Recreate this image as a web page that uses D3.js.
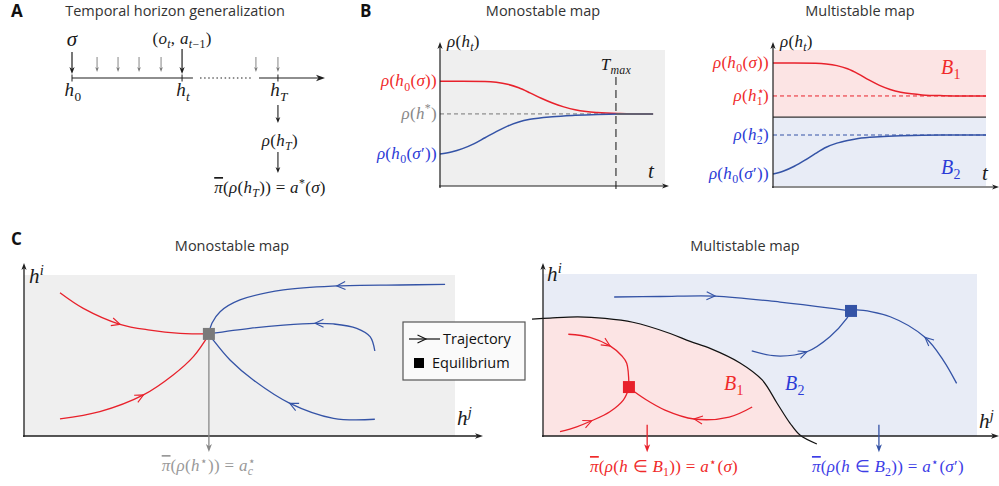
<!DOCTYPE html>
<html><head><meta charset="utf-8">
<script src="https://cdn.jsdelivr.net/npm/d3@7"></script>
<style>body{margin:0;background:#fff}</style>
</head><body>
<svg id="c" width="999" height="486"></svg>
<script>
// ================= DATA =================
const panelLetters = ["A", "B", "C"];
const titleA = "Temporal horizon generalization";
const titleMono = "Monostable map";
const titleMulti = "Multistable map";

// Panel A: timeline (abstract time units)
const timelineSegments = [[0, 4.78, "solid"], [5.06, 7.11, "dotted"], [7.39, 10, "arrow"]];
const timelineTickPos = [0, 4.35, 8.14];
const timelineTickLabels = ["h_{0}", "h_{t}", "h_{T}"];
const obsArrowPos = [0.99, 1.82, 2.65, 3.52, 7.27, 8.14];
const inputLabels = ["σ", "(o_{t}, a_{t−1})"];
const inputPos = [0, 4.35];
const readoutLabels = ["ρ(h_{T})", "§(ρ(h_{T})) = a^{*}(σ)"];

// Panel B monostable: rho(h_t) over t
const monoRedT   = [0, 1, 2, 2.5, 3, 3.5, 4, 4.5, 5, 5.5, 6, 6.5, 7, 8, 9, 9.47];
const monoRedRho = [7.7, 7.7, 7.68, 7.62, 7.48, 7.22, 6.85, 6.45, 6.1, 5.82, 5.6, 5.47, 5.4, 5.33, 5.3, 5.3];
const monoBlueT   = [0, 0.5, 1, 1.5, 2, 2.5, 3, 3.5, 4, 5, 6, 7, 8, 9, 9.47];
const monoBlueRho = [2.35, 2.5, 2.75, 3.1, 3.55, 4.0, 4.4, 4.7, 4.9, 5.1, 5.2, 5.26, 5.29, 5.3, 5.3];
const monoFixedRho = 5.3;
const monoTmax = 7.82;
const monoTEnd = 9.47;
const monoLabels = ["ρ(h_{0}(σ))", "ρ(h^{*})", "ρ(h_{0}(σ′))"];
const monoLabelRho = [7.7, 5.3, 2.35];

// Panel B multistable
const multiRedT   = [0, 1, 2, 2.5, 3, 3.5, 4, 4.5, 5, 5.5, 6, 6.5, 7, 8, 9, 10];
const multiRedRho = [9.04, 9.04, 9.02, 8.97, 8.85, 8.62, 8.25, 7.8, 7.4, 7.1, 6.9, 6.78, 6.7, 6.64, 6.62, 6.62];
const multiBlueT   = [0, 0.5, 1, 1.5, 2, 2.5, 3, 3.5, 4, 5, 6, 7, 8, 10];
const multiBlueRho = [0.88, 1.1, 1.45, 1.9, 2.4, 2.85, 3.15, 3.35, 3.5, 3.63, 3.7, 3.74, 3.75, 3.75];
const multiBasinEdge = 5.07;
const multiFixedRho = [6.62, 3.75];
const multiLabels = ["ρ(h_{0}(σ))", "ρ(h^{⋆}_{1})", "ρ(h^{⋆}_{2})", "ρ(h_{0}(σ′))"];
const multiLabelRho = [9.04, 6.62, 3.75, 0.88];
const basinLabels = ["B_{1}", "B_{2}"];

// Panel C monostable phase portrait [h^j, h^i]
const cMonoEq = [42.9, 63.4];
const cMonoRed1  = [[8.35, 89.0], [13.76, 79.3], [22.27, 69.4], [29.23, 65.8], [36.19, 63.8], [42.9, 63.4]];
const cMonoRed2  = [[8.35, 10.6], [17.6, 15.1], [27.7, 25.5], [34.6, 37.9], [39.3, 49.3], [42.9, 63.0]];
const cMonoBlue1 = [[97.7, 94.2], [87.2, 93.8], [72.6, 93.2], [60.2, 90.7], [50.1, 84.5], [45.5, 77.2], [43.6, 70.0], [42.9, 63.6]];
const cMonoBlue2 = [[81.4, 52.8], [80.3, 61.7], [77.2, 66.9], [71.8, 69.6], [67.5, 70.0], [60.2, 68.9], [52.4, 66.9], [42.9, 63.5]];
const cMonoBlue3 = [[81.4, 10.4], [71.8, 11.0], [61.7, 20.3], [53.2, 34.8], [47.8, 47.2], [43.9, 59.6], [42.9, 63.2]];
const cMonoArrowIdx = [2, 2, 2, 4, 2];
const cMonoLabel = "§(ρ(h^{⋆})) = a^{⋆}_{c}";

// Panel C multistable
const cMultiEq = [[19.8, 30.2], [70.97, 77.2]];
const cBoundary = [[-2.53, 72.2], [1.61, 72.8], [8.06, 73.5], [14.3, 72.6], [20.7, 70.2], [29.3, 63.3], [33.9, 58.4], [38.5, 54.1], [45.4, 45.1], [50.5, 34.6], [53.9, 20.4], [56.9, 8.0], [59.2, 0.6], [63.1, -4.9]];
const cMultiRed1 = [[5.83, 62.8], [10.83, 60.9], [15.44, 55.6], [18.2, 49.4], [19.29, 44.9], [19.8, 31.0]];
const cMultiRed2 = [[3.92, 2.65], [7.76, 5.7], [11.2, 9.4], [15.4, 15.0], [18.5, 22.2], [19.8, 29.5]];
const cMultiRed3 = [[48.2, 17.9], [42.9, 11.7], [34.8, 10.5], [28.1, 16.0], [23.5, 22.8], [19.9, 29.6]];
const cMultiBlue1 = [[16.4, 85.8], [27.0, 86.1], [39.6, 86.4], [54.6, 82.7], [66.1, 79.0], [70.9, 77.2]];
const cMultiBlue2 = [[48.1, 52.5], [53.8, 49.4], [60.8, 52.0], [66.1, 61.3], [70.0, 72.6], [70.9, 76.8]];
const cMultiBlue3 = [[95.3, 32.5], [92.2, 46.9], [88.0, 60.9], [80.0, 73.6], [72.3, 77.8], [71.0, 77.2]];
const cMultiArrowIdx = [2, 2, 2, 2, 2, 2];
const cMultiReadoutX = [24.0, 77.4];
const cMultiLabels = ["§(ρ(h ∈ B_{1})) = a^{⋆}(σ)", "§(ρ(h ∈ B_{2})) = a^{⋆}(σ′)"];
const legendLabels = ["Trajectory", "Equilibrium"];

// ================= STYLE =================
const FM = "'Liberation Serif','Times New Roman',serif";
const FS = "'Open Sans','Noto Sans',sans-serif";
const RED = "#e8212b", BLUE = "#3453a6", REDT = "#f02a2a", BLUET = "#2b3bd6";
const GRAYBG = "#efefef", PINK = "#fce4e4", BLUEBG = "#e8ecf6", AX = "#1e1e1e";

const svg = d3.select("#c");

// ---------- helpers ----------
function runsOf(str) {
  const out = [];
  for (const ch of str) {
    const cls = ch === '§' ? 'bar' : (/[A-Za-z\u03B1-\u03C9]/.test(ch) ? 'it' : 'up');
    const txt = ch === '§' ? 'π' : ch;
    if (out.length && out[out.length - 1].cls === cls && cls !== 'bar') out[out.length - 1].text += txt;
    else out.push({ cls, text: txt });
  }
  return out;
}
function mathText(parent, x, y, src, o = {}) {
  const size = o.size || 17;
  const t = parent.append("text").attr("x", x).attr("y", y)
    .attr("text-anchor", o.anchor || "start")
    .attr("font-family", FM).attr("font-size", size).attr("fill", o.color || "#1a1a1a")
    .attr("letter-spacing", 0.3);
  let shift = 0, i = 0, supW = null;
  function emit(str, fs, target, dx) {
    const spans = [];
    runsOf(str).forEach((r, k) => {
      const ts = t.append("tspan").attr("font-size", fs)
        .attr("font-style", r.cls === 'up' ? 'normal' : 'italic').text(r.text);
      if (k === 0) {
        if (target !== shift) ts.attr("dy", target - shift);
        shift = target;
        if (dx) ts.attr("dx", dx);
      }
      if (r.cls === 'bar') ts.style("text-decoration", "overline");
      spans.push(ts);
    });
    return spans;
  }
  while (i < src.length) {
    const ch = src[i];
    if ((ch === '_' || ch === '^') && src[i + 1] === '{') {
      const j = src.indexOf('}', i);
      const g = src.slice(i + 2, j);
      const fs = size * 0.7;
      if (ch === '^') {
        const sp = emit(g, fs, -size * 0.38, 0);
        supW = d3.sum(sp, s => s.node().getComputedTextLength());
      } else {
        emit(g, fs, size * 0.25, supW != null ? -supW : 0);
        supW = null;
      }
      i = j + 1;
    } else {
      let j = i;
      while (j < src.length && !((src[j] === '_' || src[j] === '^') && src[j + 1] === '{')) j++;
      emit(src.slice(i, j), size, 0, 0);
      supW = null; i = j;
    }
  }
  if (shift !== 0) t.append("tspan").attr("dy", -shift).text("");
  return t;
}
function head(g, x, y, ang, color, len = 7, half = 2.8) {
  g.append("path").attr("d", `M0,0L${-len},${-half}L${-len * 0.72},0L${-len},${half}Z`)
    .attr("transform", `translate(${x},${y})rotate(${ang})`).attr("fill", color);
}
function arrow(g, x1, y1, x2, y2, color, w = 1.2, len = 7, half = 2.8) {
  const ang = Math.atan2(y2 - y1, x2 - x1) * 180 / Math.PI;
  const d = Math.hypot(x2 - x1, y2 - y1), ux = (x2 - x1) / d, uy = (y2 - y1) / d;
  g.append("line").attr("x1", x1).attr("y1", y1).attr("x2", x2 - ux * len * 0.6).attr("y2", y2 - uy * len * 0.6)
    .attr("stroke", color).attr("stroke-width", w);
  head(g, x2, y2, ang, color, len, half);
}
function chevron(g, x, y, ang, color) {
  g.append("path").attr("d", "M-8.5,-4L0,0L-8.5,4").attr("fill", "none").attr("stroke", color)
    .attr("stroke-width", 1.1).attr("transform", `translate(${x},${y})rotate(${ang})`);
}
function trajectory(g, xs, ys, pts, idx, color) {
  const line = d3.line().x(d => xs(d[0])).y(d => ys(d[1])).curve(d3.curveCatmullRom.alpha(0.5));
  const p = g.append("path").attr("d", line(pts)).attr("fill", "none").attr("stroke", color).attr("stroke-width", 1.3);
  const node = p.node(), L = node.getTotalLength();
  const tx = xs(pts[idx][0]), ty = ys(pts[idx][1]);
  let best = 0, bd = 1e9;
  for (let s = 0; s <= 400; s++) {
    const q = node.getPointAtLength(L * s / 400);
    const dd = (q.x - tx) ** 2 + (q.y - ty) ** 2;
    if (dd < bd) { bd = dd; best = L * s / 400; }
  }
  const a = node.getPointAtLength(Math.max(0, best - 2)), b = node.getPointAtLength(Math.min(L, best + 2));
  const q = node.getPointAtLength(best);
  chevron(g, q.x, q.y, Math.atan2(b.y - a.y, b.x - a.x) * 180 / Math.PI, color);
}
function square(g, x, y, color, s = 12) {
  g.append("rect").attr("x", x - s / 2).attr("y", y - s / 2).attr("width", s).attr("height", s).attr("fill", color);
}
function sans(g, x, y, txt, o = {}) {
  return g.append("text").attr("x", x).attr("y", y).attr("text-anchor", o.anchor || "start")
    .attr("font-family", FS).attr("font-size", o.size || 14).attr("font-weight", o.weight || 400)
    .attr("fill", o.color || "#333").text(txt);
}

// ---------- panel letters & titles ----------
const gT = svg.append("g");
sans(gT, 11, 17, panelLetters[0], { size: 17, weight: 700, color: "#111" });
sans(gT, 360, 17, panelLetters[1], { size: 17, weight: 700, color: "#111" });
sans(gT, 11, 245, panelLetters[2], { size: 17, weight: 700, color: "#111" });
sans(gT, 175, 16, titleA, { anchor: "middle", size: 14.5 });
sans(gT, 543, 16, titleMono, { anchor: "middle", size: 14.5 });
sans(gT, 860, 16, titleMulti, { anchor: "middle", size: 14.5 });
sans(gT, 232, 251, titleMono, { anchor: "middle", size: 14.5 });
sans(gT, 745, 251, titleMulti, { anchor: "middle", size: 14.5 });

// ================= PANEL A =================
(function () {
  const g = svg.append("g");
  const tl = d3.scaleLinear().domain([0, 10]).range([72, 325]);
  const yAx = 78;
  timelineSegments.forEach(([a, b, kind]) => {
    if (kind === "arrow") arrow(g, tl(a), yAx, tl(b), yAx, AX, 1.2, 9, 3.2);
    else g.append("line").attr("x1", tl(a)).attr("x2", tl(b)).attr("y1", yAx).attr("y2", yAx)
      .attr("stroke", AX).attr("stroke-width", 1.2).attr("stroke-dasharray", kind === "dotted" ? "1.5,2.6" : null);
  });
  timelineTickPos.forEach((p, i) => {
    g.append("line").attr("x1", tl(p)).attr("x2", tl(p)).attr("y1", yAx - 3.5).attr("y2", yAx + 3.5).attr("stroke", AX);
    mathText(g, tl(p) + 1, 96, timelineTickLabels[i], { anchor: "middle", size: 19 });
  });
  obsArrowPos.forEach(p => arrow(g, tl(p), 57, tl(p), 72, "#777", 0.9, 5, 1.8));
  inputPos.forEach((p, i) => {
    arrow(g, tl(p), i === 0 ? 52 : 49, tl(p), 74, AX, 1.2, 7, 2.6);
    mathText(g, tl(p), i === 0 ? 46 : 44, inputLabels[i], { anchor: "middle", size: i === 0 ? 21 : 17 });
  });
  const xT = tl(timelineTickPos[2]);
  arrow(g, xT, 105, xT, 123, AX, 1.1, 6, 2.4);
  mathText(g, xT + 2, 146, readoutLabels[0], { anchor: "middle", size: 17 });
  arrow(g, xT, 152, xT, 173, AX, 1.1, 6, 2.4);
  mathText(g, 270, 193, readoutLabels[1], { anchor: "middle", size: 17 });
})();

// ================= PANEL B mono =================
(function () {
  const g = svg.append("g");
  const x = d3.scaleLinear().domain([0, 10]).range([440, 665]);
  const y = d3.scaleLinear().domain([0, 10]).range([186, 50]);
  g.append("rect").attr("x", x(0)).attr("y", y(10)).attr("width", x(10) - x(0)).attr("height", y(0) - y(10)).attr("fill", GRAYBG);
  g.append("line").attr("x1", x(0)).attr("x2", x(monoTmax)).attr("y1", y(monoFixedRho)).attr("y2", y(monoFixedRho))
    .attr("stroke", "#777").attr("stroke-width", 1).attr("stroke-dasharray", "4,3");
  const line = d3.line().x(d => x(d[0])).y(d => y(d[1])).curve(d3.curveMonotoneX);
  g.append("path").attr("d", line(monoRedT.map((t, i) => [t, monoRedRho[i]]))).attr("fill", "none").attr("stroke", RED).attr("stroke-width", 1.5);
  g.append("path").attr("d", line(monoBlueT.map((t, i) => [t, monoBlueRho[i]]))).attr("fill", "none").attr("stroke", BLUE).attr("stroke-width", 1.5);
  g.append("line").attr("x1", x(monoTmax)).attr("x2", x(monoTEnd)).attr("y1", y(monoFixedRho)).attr("y2", y(monoFixedRho))
    .attr("stroke", "#666").attr("stroke-width", 1.5);
  g.append("line").attr("x1", x(monoTmax)).attr("x2", x(monoTmax)).attr("y1", 77).attr("y2", 194)
    .attr("stroke", "#444").attr("stroke-width", 1.3).attr("stroke-dasharray", "8,5");
  arrow(g, x(0), 188, x(0), 42, AX, 1.2, 7, 2.6);
  arrow(g, x(0) - 1, y(0), 669, y(0), AX, 1.2, 7, 2.6);
  const cols = [REDT, "#888", BLUET];
  monoLabels.forEach((l, i) => mathText(g, 437, y(monoLabelRho[i]) + 5, l, { anchor: "end", size: 17, color: cols[i] }));
  mathText(g, 447, 47, "ρ(h_{t})", { size: 17 });
  mathText(g, x(monoTmax), 70, "T_{max}", { anchor: "middle", size: 17 });
  mathText(g, 651, 178, "t", { anchor: "middle", size: 21 });
})();

// ================= PANEL B multi =================
(function () {
  const g = svg.append("g");
  const x = d3.scaleLinear().domain([0, 10]).range([773, 986]);
  const y = d3.scaleLinear().domain([0, 10]).range([186, 50]);
  g.append("rect").attr("x", x(0)).attr("y", y(10)).attr("width", x(10) - x(0)).attr("height", y(multiBasinEdge) - y(10)).attr("fill", PINK);
  g.append("rect").attr("x", x(0)).attr("y", y(multiBasinEdge)).attr("width", x(10) - x(0)).attr("height", y(0) - y(multiBasinEdge)).attr("fill", BLUEBG);
  g.append("line").attr("x1", x(0)).attr("x2", x(10)).attr("y1", y(multiBasinEdge)).attr("y2", y(multiBasinEdge)).attr("stroke", "#333").attr("stroke-width", 1.3);
  [RED, BLUE].forEach((c, i) => g.append("line").attr("x1", x(0)).attr("x2", x(10)).attr("y1", y(multiFixedRho[i])).attr("y2", y(multiFixedRho[i]))
    .attr("stroke", c).attr("stroke-width", 1).attr("stroke-dasharray", "4,3"));
  const line = d3.line().x(d => x(d[0])).y(d => y(d[1])).curve(d3.curveMonotoneX);
  g.append("path").attr("d", line(multiRedT.map((t, i) => [t, multiRedRho[i]]))).attr("fill", "none").attr("stroke", RED).attr("stroke-width", 1.5);
  g.append("path").attr("d", line(multiBlueT.map((t, i) => [t, multiBlueRho[i]]))).attr("fill", "none").attr("stroke", BLUE).attr("stroke-width", 1.5);
  arrow(g, x(0), 188, x(0), 42, AX, 1.2, 7, 2.6);
  arrow(g, x(0) - 1, y(0) + 1, 999, y(0) + 1, AX, 1.2, 7, 2.6);
  const cols = [REDT, REDT, BLUET, BLUET];
  multiLabels.forEach((l, i) => mathText(g, 769, y(multiLabelRho[i]) + 5, l, { anchor: "end", size: 17, color: cols[i] }));
  mathText(g, 780, 47, "ρ(h_{t})", { size: 17 });
  mathText(g, 951, 74, basinLabels[0], { anchor: "middle", size: 20, color: REDT });
  mathText(g, 951, 174, basinLabels[1], { anchor: "middle", size: 20, color: BLUET });
  mathText(g, 985, 180, "t", { anchor: "middle", size: 21 });
})();

// ================= PANEL C mono =================
(function () {
  const g = svg.append("g");
  const x = d3.scaleLinear().domain([0, 100]).range([24, 455]);
  const y = d3.scaleLinear().domain([0, 100]).range([436, 275]);
  g.append("rect").attr("x", x(0)).attr("y", y(100)).attr("width", x(100) - x(0)).attr("height", y(0) - y(100)).attr("fill", GRAYBG);
  arrow(g, x(0), 437, x(0), 263, AX, 1.3, 7, 2.6);
  arrow(g, x(0) - 1, y(0), 483, y(0), AX, 1.3, 8, 2.8);
  const trajs = [[cMonoRed1, RED], [cMonoRed2, RED], [cMonoBlue1, BLUE], [cMonoBlue2, BLUE], [cMonoBlue3, BLUE]];
  trajs.forEach(([p, c], i) => trajectory(g, x, y, p, cMonoArrowIdx[i], c));
  arrow(g, x(cMonoEq[0]), y(cMonoEq[1]) + 6, x(cMonoEq[0]), y(-10), "#888", 1.3, 8, 3);
  square(g, x(cMonoEq[0]), y(cMonoEq[1]), "#7a7a7a");
  mathText(g, x(cMonoEq[0]), 471, cMonoLabel, { anchor: "middle", size: 17, color: "#999" });
  mathText(g, 29, 283, "h^{i}", { size: 21 });
  mathText(g, 457, 425, "h^{j}", { size: 21 });
})();

// ================= PANEL C multi =================
(function () {
  const g = svg.append("g");
  const x = d3.scaleLinear().domain([0, 100]).range([543, 977]);
  const y = d3.scaleLinear().domain([0, 100]).range([436, 274]);
  g.append("rect").attr("x", x(0)).attr("y", y(100)).attr("width", x(100) - x(0)).attr("height", y(0) - y(100)).attr("fill", BLUEBG);
  svg.append("clipPath").attr("id", "clipM").append("rect").attr("x", x(0)).attr("y", y(100)).attr("width", x(100) - x(0)).attr("height", y(0) - y(100));
  const bl = d3.line().x(d => x(d[0])).y(d => y(d[1])).curve(d3.curveCatmullRom.alpha(0.5));
  const last = cBoundary[cBoundary.length - 1], first = cBoundary[0];
  g.append("path").attr("clip-path", "url(#clipM)")
    .attr("d", bl(cBoundary) + `L${x(last[0])},${y(-20)}L${x(first[0])},${y(-20)}Z`).attr("fill", PINK);
  g.append("path").attr("d", bl(cBoundary)).attr("fill", "none").attr("stroke", "#111").attr("stroke-width", 1.2);
  arrow(g, x(0), 437, x(0), 263, AX, 1.3, 7, 2.6);
  arrow(g, x(0) - 1, y(0), 999, y(0), AX, 1.3, 8, 2.8);
  const trajs = [[cMultiRed1, RED], [cMultiRed2, RED], [cMultiRed3, RED], [cMultiBlue1, BLUE], [cMultiBlue2, BLUE], [cMultiBlue3, BLUE]];
  trajs.forEach(([p, c], i) => trajectory(g, x, y, p, cMultiArrowIdx[i], c));
  square(g, x(cMultiEq[0][0]), y(cMultiEq[0][1]), RED);
  square(g, x(cMultiEq[1][0]), y(cMultiEq[1][1]), BLUE);
  arrow(g, x(cMultiReadoutX[0]), y(7), x(cMultiReadoutX[0]), y(-10), RED, 1.3, 8, 3);
  arrow(g, x(cMultiReadoutX[1]), y(7), x(cMultiReadoutX[1]), y(-10), BLUE, 1.3, 8, 3);
  mathText(g, 664, 472, cMultiLabels[0], { anchor: "middle", size: 17, color: REDT });
  mathText(g, 888, 472, cMultiLabels[1], { anchor: "middle", size: 17, color: "#3d3de6" });
  mathText(g, 734, 390, basinLabels[0], { anchor: "middle", size: 20, color: REDT });
  mathText(g, 795, 390, basinLabels[1], { anchor: "middle", size: 20, color: BLUET });
  mathText(g, 547, 281, "h^{i}", { size: 21 });
  mathText(g, 979, 428, "h^{j}", { size: 21 });
})();

// ================= LEGEND =================
(function () {
  const g = svg.append("g");
  g.append("rect").attr("x", 403).attr("y", 322).attr("width", 122).attr("height", 58)
    .attr("fill", "#fafafa").attr("stroke", "#555").attr("stroke-width", 1.2);
  g.append("line").attr("x1", 409).attr("x2", 440).attr("y1", 339).attr("y2", 339).attr("stroke", "#111").attr("stroke-width", 1.2);
  chevron(g, 426, 339, 0, "#111");
  sans(g, 443, 344, legendLabels[0], { size: 14.5, color: "#111" });
  square(g, 419, 363, "#000", 10);
  sans(g, 432, 368, legendLabels[1], { size: 14.5, color: "#111" });
})();
</script>
</body></html>
